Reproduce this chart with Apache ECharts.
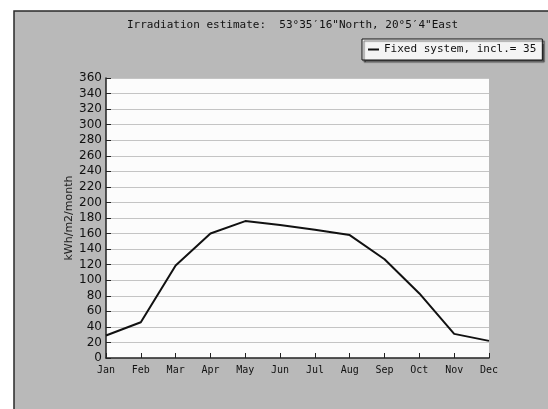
<!DOCTYPE html>
<html lang="en">
<head>
	<meta charset="UTF-8">
	<title>Irradiation estimate</title>
	<style type="text/css">
		html, body { margin: 0; padding: 0; background: #fff; }
		#a { width: 548px; height: 409px; }
	</style>
</head>
<body>
	<div id="a"></div>
	<script type="text/javascript" src="https://cdn.jsdelivr.net/npm/echarts@6/dist/echarts.min.js"></script>
	<script type="text/javascript">
		// months on the x axis
		var months = ['Jan', 'Feb', 'Mar', 'Apr', 'May', 'Jun', 'Jul', 'Aug', 'Sep', 'Oct', 'Nov', 'Dec'];
		// kWh/m2/month
		var irradiation = [29, 46, 119, 160, 176, 171, 165, 158, 127, 83, 31, 22];
		var seriesName = 'Fixed system, incl.= 35';
		var titleText = 'Irradiation estimate:  53\u00b035\u203216"North, 20\u00b05\u20324"East';

		var myChart = echarts.init(document.getElementById('a'));
		var mono = 'DejaVu Sans Mono';

		var option = {
			backgroundColor: '#ffffff',
			animation: false,
			graphic: [{
				//grey panel behind everything
				type: 'rect',
				z: -10,
				shape: { x: 14, y: 11, width: 600, height: 500 },
				style: { fill: '#b9b9b9', stroke: '#2a2a2a', lineWidth: 1.5 }
			}],
			title: {
				text: titleText,
				left: 127,
				top: 20,
				padding: 0,
				textStyle: { fontFamily: mono, fontSize: 11, fontWeight: 'normal', color: '#111' }
			},
			legend: {
				data: [seriesName],
				left: 362,
				top: 39,
				padding: [5, 6, 5, 6],
				backgroundColor: '#f4f4f4',
				borderColor: '#111',
				borderWidth: 1,
				shadowColor: 'rgba(0,0,0,0.55)',
				shadowOffsetX: 2,
				shadowOffsetY: 2,
				shadowBlur: 1,
				icon: 'rect',
				itemWidth: 11,
				itemHeight: 2,
				itemGap: 4,
				textStyle: { fontFamily: mono, fontSize: 11, color: '#111' }
			},
			grid: {
				left: 106,
				right: 59,
				top: 78,
				bottom: 51,
				show: true,
				backgroundColor: '#fcfcfc',
				borderWidth: 0
			},
			xAxis: {
				type: 'category',
				data: months,
				boundaryGap: false,
				axisLine: { lineStyle: { color: '#222', width: 1.5 } },
				axisTick: { inside: true, length: 5, lineStyle: { color: '#222' } },
				axisLabel: { fontFamily: mono, fontSize: 10, color: '#111', margin: 7 },
				splitLine: { show: false }
			},
			yAxis: {
				type: 'value',
				min: 0,
				max: 360,
				interval: 20,
				name: 'kWh/m2/month',
				nameLocation: 'middle',
				nameGap: 31,
				nameMoveOverlap: false,
				nameTextStyle: { fontFamily: 'DejaVu Sans', fontSize: 11, color: '#222' },
				axisLine: { show: true, lineStyle: { color: '#222', width: 1.5 } },
				axisTick: { show: true, inside: true, length: 5, lineStyle: { color: '#222' } },
				axisLabel: { fontFamily: 'DejaVu Sans', fontSize: 12, color: '#111', margin: 4 },
				splitLine: { lineStyle: { color: '#c4c4c4', width: 1, type: 'solid' } }
			},
			series: [{
				name: seriesName,
				type: 'line',
				data: irradiation,
				showSymbol: false,
				lineStyle: { color: '#111', width: 2 },
				itemStyle: { color: '#111' }
			}]
		};
		myChart.setOption(option);
	</script>
</body>
</html>
